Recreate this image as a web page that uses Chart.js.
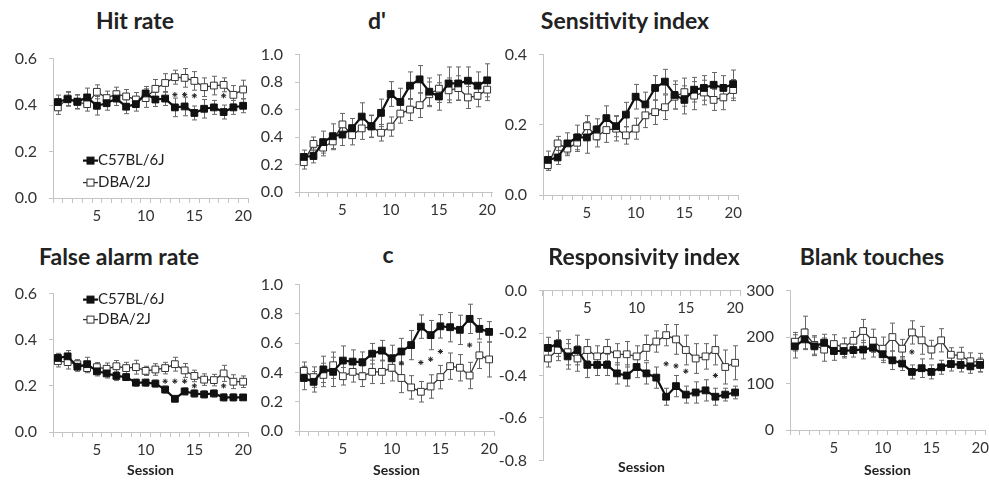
<!DOCTYPE html>
<html>
<head>
<meta charset="utf-8">
<script src="https://cdn.jsdelivr.net/npm/chart.js@4.4.1/dist/chart.umd.min.js"></script>
<style>
  body { margin: 0; background: #fff; width: 989px; height: 482px; position: relative; overflow: hidden; font-family: Lato, sans-serif; }
  canvas { position: absolute; }
  .ttl { position: absolute; font-weight: bold; font-size: 23px; line-height: 24px; color: #222; transform: translateX(-50%); white-space: nowrap; }
</style>
</head>
<body>
<script>
// categorias e rótulos
const sessions = ["1","2","3","4","5","6","7","8","9","10","11","12","13","14","15","16","17","18","19","20"];
const xTickLabels = ["5","10","15","20"];
const seriesNames = ["C57BL/6J", "DBA/2J"];

// Hit rate
const hitC57    = [0.413,0.425,0.415,0.433,0.397,0.408,0.428,0.393,0.404,0.45,0.424,0.428,0.39,0.394,0.366,0.384,0.39,0.37,0.39,0.397];
const hitC57Err = [0.03,0.03,0.03,0.04,0.04,0.03,0.03,0.03,0.03,0.03,0.03,0.03,0.04,0.04,0.03,0.04,0.03,0.03,0.03,0.03];
const hitDBA    = [0.39,0.428,0.413,0.404,0.457,0.43,0.447,0.437,0.424,0.43,0.47,0.495,0.52,0.517,0.504,0.477,0.484,0.487,0.444,0.467];
const hitDBAErr = [0.03,0.03,0.03,0.03,0.03,0.03,0.03,0.03,0.03,0.04,0.04,0.04,0.03,0.04,0.04,0.04,0.04,0.03,0.04,0.04];
const hitStar   = [null,null,null,null,null,null,null,null,null,null,null,null,0.445,0.445,0.44,null,null,0.44,null,null];

// d'
const dC57    = [0.255,0.262,0.363,0.406,0.418,0.465,0.549,0.48,0.576,0.713,0.655,0.774,0.82,0.73,0.695,0.79,0.79,0.81,0.774,0.813];
const dC57Err = [0.05,0.05,0.08,0.09,0.08,0.07,0.1,0.08,0.1,0.09,0.1,0.1,0.1,0.1,0.1,0.12,0.12,0.1,0.1,0.12];
const dDBA    = [0.217,0.35,0.323,0.368,0.492,0.413,0.463,0.476,0.431,0.476,0.571,0.6,0.632,0.711,0.752,0.74,0.756,0.688,0.7,0.745];
const dDBAErr = [0.05,0.05,0.06,0.06,0.08,0.07,0.08,0.08,0.06,0.07,0.07,0.08,0.09,0.09,0.1,0.09,0.09,0.08,0.08,0.08];

// Sensitivity index
const sensC57    = [0.1,0.107,0.147,0.164,0.164,0.187,0.219,0.196,0.229,0.28,0.258,0.305,0.323,0.285,0.271,0.3,0.305,0.314,0.305,0.316];
const sensC57Err = [0.025,0.02,0.03,0.035,0.045,0.03,0.035,0.03,0.035,0.035,0.035,0.035,0.035,0.04,0.04,0.035,0.035,0.035,0.035,0.04];
const sensDBA    = [0.085,0.147,0.132,0.149,0.196,0.167,0.185,0.189,0.17,0.189,0.227,0.236,0.25,0.28,0.293,0.283,0.292,0.271,0.278,0.299];
const sensDBAErr = [0.015,0.02,0.02,0.025,0.03,0.03,0.035,0.035,0.025,0.03,0.035,0.035,0.035,0.035,0.04,0.04,0.035,0.03,0.035,0.03];

// False alarm rate
const faC57    = [0.321,0.328,0.283,0.294,0.263,0.254,0.243,0.238,0.214,0.214,0.21,0.184,0.144,0.176,0.167,0.163,0.167,0.15,0.15,0.15];
const faC57Err = [0.02,0.025,0.02,0.03,0.02,0.02,0.02,0.015,0.015,0.015,0.015,0.015,0.01,0.015,0.015,0.015,0.015,0.015,0.015,0.01];
const faDBA    = [0.307,0.303,0.294,0.277,0.281,0.274,0.285,0.277,0.281,0.265,0.271,0.277,0.294,0.267,0.243,0.227,0.225,0.254,0.218,0.218];
const faDBAErr = [0.025,0.03,0.02,0.02,0.02,0.025,0.025,0.025,0.03,0.02,0.025,0.025,0.03,0.03,0.025,0.025,0.025,0.035,0.03,0.025];
const faStar   = [null,null,null,null,null,null,null,null,null,null,null,0.22,0.22,0.22,0.2,null,null,0.2,null,null];

// c
const cC57    = [0.362,0.336,0.421,0.404,0.481,0.474,0.47,0.528,0.549,0.496,0.543,0.587,0.713,0.655,0.715,0.709,0.691,0.766,0.698,0.677];
const cC57Err = [0.08,0.07,0.09,0.1,0.1,0.08,0.07,0.07,0.07,0.09,0.09,0.1,0.08,0.1,0.08,0.1,0.1,0.1,0.07,0.07];
const cDBA    = [0.411,0.368,0.383,0.449,0.374,0.404,0.374,0.404,0.404,0.432,0.362,0.298,0.268,0.304,0.368,0.443,0.432,0.379,0.517,0.489];
const cDBAErr = [0.06,0.07,0.08,0.09,0.06,0.07,0.07,0.08,0.08,0.09,0.1,0.08,0.07,0.08,0.08,0.09,0.09,0.09,0.09,0.12];
const cStar   = [null,null,null,null,null,null,null,null,null,null,0.465,null,0.468,0.49,0.543,null,null,0.587,null,null];

// Responsivity index
const respC57    = [-0.27,-0.25,-0.31,-0.28,-0.35,-0.35,-0.35,-0.39,-0.4,-0.36,-0.39,-0.41,-0.5,-0.45,-0.49,-0.48,-0.47,-0.5,-0.49,-0.48];
const respC57Err = [0.05,0.06,0.06,0.07,0.06,0.05,0.05,0.05,0.05,0.05,0.05,0.05,0.04,0.05,0.04,0.05,0.05,0.04,0.03,0.03];
const respDBA    = [-0.32,-0.28,-0.29,-0.32,-0.28,-0.31,-0.28,-0.3,-0.3,-0.31,-0.27,-0.24,-0.21,-0.23,-0.28,-0.32,-0.31,-0.28,-0.36,-0.34];
const respDBAErr = [0.04,0.05,0.06,0.06,0.05,0.05,0.05,0.05,0.06,0.05,0.06,0.05,0.05,0.07,0.07,0.07,0.06,0.07,0.08,0.08];
const respStar   = [null,null,null,null,null,null,null,null,null,null,null,null,-0.345,-0.355,-0.38,null,null,-0.4,null,null];

// Blank touches
const blankC57    = [180,195,180,188,170,170,172,173,177,163,150,143,125,133,125,135,142,140,137,140];
const blankC57Err = [25,22,20,18,20,15,15,20,20,18,20,15,15,20,15,15,15,15,15,15];
const blankDBA    = [190,210,183,173,185,178,192,213,192,175,200,175,210,193,173,193,162,160,148,145];
const blankDBAErr = [20,35,20,25,20,20,20,25,25,25,30,20,25,30,20,25,15,18,18,20];
const blankStar   = [null,null,null,null,null,null,null,null,null,null,null,null,168,null,null,null,null,null,null,null];

// barras de erro (desenhadas antes das linhas)
const errorBars = {
  id: "errorBars",
  beforeDatasetsDraw(chart) {
    const { ctx } = chart;
    const ys = chart.scales.y;
    chart.data.datasets.forEach((ds, i) => {
      if (!ds.err) return;
      const meta = chart.getDatasetMeta(i);
      ctx.save();
      ctx.strokeStyle = "#666";
      ctx.lineWidth = 1;
      meta.data.forEach((pt, j) => {
        const v = ds.data[j], e = ds.err[j];
        if (v == null) return;
        const x = Math.round(pt.x) + 0.5;
        const y1 = ys.getPixelForValue(v - e), y2 = ys.getPixelForValue(v + e);
        ctx.beginPath();
        ctx.moveTo(x, y1); ctx.lineTo(x, y2);
        ctx.moveTo(x - 2.5, y1); ctx.lineTo(x + 2.5, y1);
        ctx.moveTo(x - 2.5, y2); ctx.lineTo(x + 2.5, y2);
        ctx.stroke();
      });
      ctx.restore();
    });
  }
};

// legenda dentro da área do gráfico
const inlineLegend = {
  id: "inlineLegend",
  afterDatasetsDraw(chart, args, opts) {
    if (!opts || !opts.show) return;
    const { ctx, chartArea } = chart;
    const x0 = chartArea.left + opts.dx, y0 = chartArea.top + opts.dy;
    chart.data.datasets.slice(0, 2).forEach((ds, i) => {
      const y = y0 + i * opts.gap;
      ctx.save();
      ctx.strokeStyle = ds.borderColor;
      ctx.lineWidth = ds.borderWidth;
      ctx.beginPath(); ctx.moveTo(x0, y); ctx.lineTo(x0 + 15, y); ctx.stroke();
      ctx.fillStyle = ds.pointBackgroundColor;
      ctx.lineWidth = 1;
      ctx.fillRect(x0 + 4, y - 3.5, 7, 7);
      ctx.strokeRect(x0 + 4, y - 3.5, 7, 7);
      ctx.fillStyle = "#222";
      ctx.font = "15px Lato";
      ctx.textBaseline = "middle";
      ctx.fillText(ds.label, x0 + 15, y);
      ctx.restore();
    });
  }
};

const panels = [
  { title: "Hit rate", tx: 135, ty: 21, ax: 53, top: 49, right: 248, bottom: 198, min: 0, max: 0.6, step: 0.2,
    c57: hitC57, c57Err: hitC57Err, dba: hitDBA, dbaErr: hitDBAErr, star: hitStar, legend: { show: true, dx: 30, dy: 102, gap: 22 } },
  { title: "d'", tx: 377, ty: 21, ax: 299, top: 45, right: 492, bottom: 192, min: 0, max: 1, step: 0.2,
    c57: dC57, c57Err: dC57Err, dba: dDBA, dbaErr: dDBAErr },
  { title: "Sensitivity index", tx: 625, ty: 21, ax: 543, top: 45, right: 738, bottom: 195, min: 0, max: 0.4, step: 0.2,
    c57: sensC57, c57Err: sensC57Err, dba: sensDBA, dbaErr: sensDBAErr },
  { title: "False alarm rate", tx: 119, ty: 257, ax: 53, top: 284, right: 248, bottom: 432, min: 0, max: 0.6, step: 0.2, session: true,
    c57: faC57, c57Err: faC57Err, dba: faDBA, dbaErr: faDBAErr, star: faStar, legend: { show: true, dx: 30, dy: 6, gap: 20 } },
  { title: "c", tx: 388, ty: 255, ax: 299, top: 275, right: 494, bottom: 431, min: 0, max: 1, step: 0.2, session: true,
    c57: cC57, c57Err: cC57Err, dba: cDBA, dbaErr: cDBAErr, star: cStar },
  { title: "Responsivity index", tx: 644, ty: 257, ax: 543, top: 281, right: 740, bottom: 464, min: -0.8, max: 0, step: 0.2, session: true, topAxis: true,
    c57: respC57, c57Err: respC57Err, dba: respDBA, dbaErr: respDBAErr, star: respStar },
  { title: "Blank touches", tx: 872, ty: 257, ax: 790, top: 281, right: 985, bottom: 430, min: 0, max: 300, step: 100, session: true, integer: true,
    c57: blankC57, c57Err: blankC57Err, dba: blankDBA, dbaErr: blankDBAErr, star: blankStar }
];

const Y_W = 60, PAD_T = 12, PAD_R = 14;
const AXIS = "#c4c4c4", TXT = "#333";
const sessionTitle = { display: true, text: "Session", color: "#222", font: { family: "Lato", size: 14, weight: "bold" }, padding: { top: 0, bottom: 3 } };

function makePanel(p) {
  const ttl = document.createElement("div");
  ttl.className = "ttl";
  ttl.textContent = p.title;
  ttl.style.left = p.tx + "px";
  ttl.style.top = (p.ty - 12.6) + "px";
  document.body.appendChild(ttl);

  const xH = p.session ? 482 - p.bottom : 30;
  const plotW = p.right - p.ax, plotH = p.bottom - p.top;
  const cv = document.createElement("canvas");
  cv.width = Y_W + plotW + PAD_R;
  cv.height = PAD_T + plotH + xH;
  cv.style.left = (p.ax - Y_W) + "px";
  cv.style.top = (p.top - PAD_T) + "px";
  document.body.appendChild(cv);

  const datasets = [
    { label: seriesNames[0], data: p.c57, err: p.c57Err, borderColor: "#111", borderWidth: 2.2,
      pointStyle: "rect", pointRadius: 4.8, pointBackgroundColor: "#111", pointBorderColor: "#111", pointBorderWidth: 1 },
    { label: seriesNames[1], data: p.dba, err: p.dbaErr, borderColor: "#333", borderWidth: 1.3,
      pointStyle: "rect", pointRadius: 4.8, pointBackgroundColor: "#fff", pointBorderColor: "#333", pointBorderWidth: 1 }
  ];
  if (p.star) {
    datasets.push({ label: "*", data: p.star, showLine: false, pointStyle: "star", pointRadius: 2.6,
      borderColor: "#222", pointBorderColor: "#222", pointBorderWidth: 1, backgroundColor: "#222" });
  }

  const xTickCb = (v, i) => xTickLabels.includes(sessions[i]) ? sessions[i] : "";
  const xAxis = {
    type: "category",
    offset: true,
    grid: { offset: true, drawOnChartArea: false, drawTicks: true, tickLength: 5, color: AXIS },
    border: { display: true, color: AXIS },
    ticks: { autoSkip: false, maxRotation: 0, minRotation: 0, color: TXT, font: { family: "Lato", size: 15 }, padding: 4, callback: xTickCb },
    afterFit: s => { s.height = xH; }
  };
  const scales = {
    y: {
      min: p.min, max: p.max,
      grid: { drawOnChartArea: false, drawTicks: true, tickLength: 4, color: AXIS },
      border: { display: true, color: AXIS },
      ticks: { stepSize: p.step, color: TXT, font: { family: "Lato", size: 16 }, padding: 12,
        callback: v => p.integer ? String(Math.round(v)) : Number(v).toFixed(1) },
      afterFit: s => { s.width = Y_W; }
    }
  };
  if (p.topAxis) {
    xAxis.position = { y: 0 };
    delete xAxis.afterFit;
    scales.x = xAxis;
    scales.x2 = {
      type: "category", position: "bottom", labels: sessions, offset: true,
      grid: { display: false, drawTicks: false }, border: { display: false },
      ticks: { display: false },
      title: sessionTitle,
      afterFit: s => { s.height = xH; }
    };
  } else {
    if (p.session) xAxis.title = sessionTitle;
    scales.x = xAxis;
  }

  new Chart(cv, {
    type: "line",
    data: { labels: sessions, datasets },
    options: {
      responsive: false,
      animation: false,
      layout: { padding: { top: PAD_T, right: PAD_R, left: 0, bottom: 0 } },
      elements: { line: { tension: 0 } },
      plugins: {
        legend: { display: false },
        tooltip: { enabled: false },
        inlineLegend: p.legend || { show: false }
      },
      scales
    },
    plugins: [errorBars, inlineLegend]
  });
}

panels.forEach(makePanel);
</script>
</body>
</html>
